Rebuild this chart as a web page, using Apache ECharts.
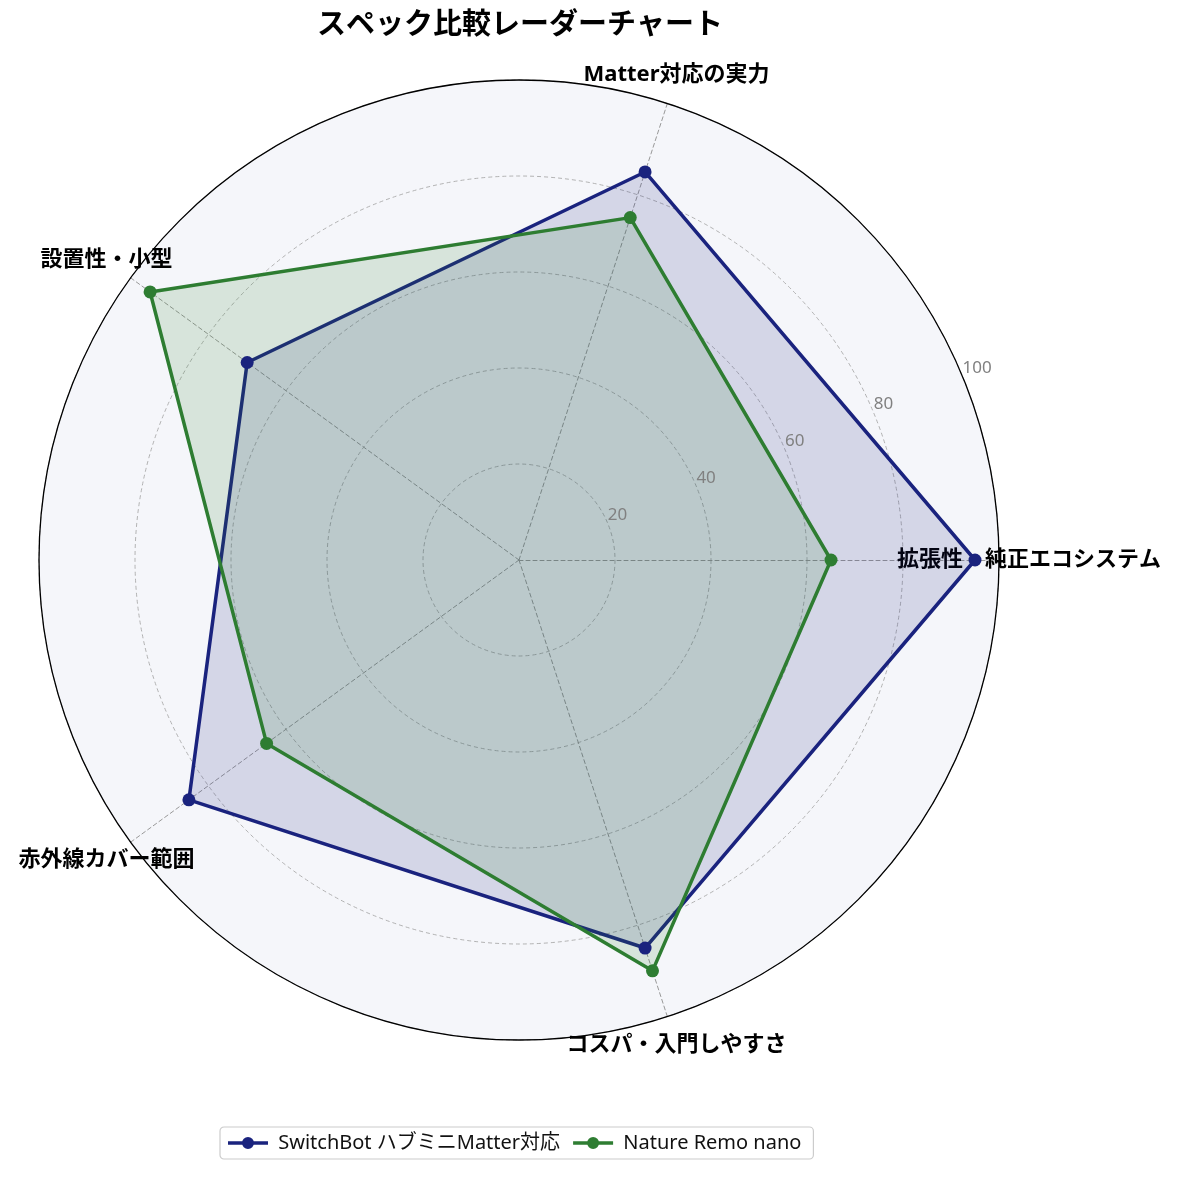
<!DOCTYPE html>
<html>
<head>
<meta charset="utf-8">
<script src="https://cdn.jsdelivr.net/npm/echarts@6/dist/echarts.min.js"></script>
<style>
html,body{margin:0;padding:0;background:#fff;}
#radar_spec{width:1181px;height:1177px;}
</style>
</head>
<body>
<div id="radar_spec"></div>
<script>
// 軸の項目
var categories = ['拡張性・純正エコシステム', 'Matter対応の実力', '設置性・小型', '赤外線カバー範囲', 'コスパ・入門しやすさ'];
var seriesNames = ['SwitchBot ハブミニMatter対応', 'Nature Remo nano'];
var switchbotValues = [95, 85, 70, 85, 85];
var remoValues = [65, 75, 95, 65, 90];
var rTicks = [20, 40, 60, 80, 100];

var font = "'Noto Sans', 'Noto Sans CJK JP'";
var cx = 519, cy = 560, R = 480;
var legendIcon = 'path://M0,6h40v3.4h-40z M14,7.7a6,6 0 1,1 12,0a6,6 0 1,1 -12,0z';

var radar_spec = {
    backgroundColor: '#fff',
    textStyle: { fontFamily: font },
    title: {
        text: 'スペック比較レーダーチャート',
        left: 317,
        top: 11,
        padding: 0,
        textStyle: { fontSize: 29, fontWeight: 'bold', color: '#000', fontFamily: font }
    },
    legend: {
        data: [
            { name: seriesNames[0], icon: legendIcon },
            { name: seriesNames[1], icon: legendIcon }
        ],
        formatter: function (n) { return ' ' + n; },
        left: 220,
        top: 1127,
        itemWidth: 40,
        itemHeight: 12,
        itemGap: 13,
        padding: [6, 12, 6, 8],
        borderColor: '#cccccc',
        borderWidth: 1.2,
        borderRadius: 4,
        textStyle: { fontSize: 20, color: '#111', fontFamily: font }
    },
    radar: {
        center: [cx, cy],
        radius: R,
        startAngle: 0,
        shape: 'circle',
        splitNumber: 5,
        indicator: categories.map(function (c) { return { name: c, min: 0, max: 100 }; }),
        nameGap: 30,
        axisName: {
            color: '#000',
            fontSize: 22,
            fontWeight: 'bold',
            fontFamily: font,
            align: 'center',
            verticalAlign: 'middle'
        },
        axisLine: { lineStyle: { color: '#999', type: [4, 3], width: 1 } },
        splitLine: { lineStyle: { color: '#aaa', type: [4, 3], width: 0.9 } },
        splitArea: { show: true, areaStyle: { color: ['#f5f6fa'] } }
    },
    // 目盛ラベルと外枠用
    polar: { center: [cx, cy], radius: R },
    angleAxis: {
        type: 'value',
        min: 0,
        max: 360,
        startAngle: 22.5,
        z: 5,
        axisLine: { show: true, lineStyle: { color: '#000', width: 1.3 } },
        axisTick: { show: false },
        axisLabel: { show: false },
        splitLine: { show: false }
    },
    radiusAxis: {
        type: 'value',
        min: 0,
        max: 100,
        interval: 20,
        z: 5,
        axisLine: { show: false },
        axisTick: { show: false },
        splitLine: { show: false },
        axisLabel: {
            showMinLabel: false,
            margin: 0,
            align: 'left',
            verticalAlign: 'bottom',
            color: '#808080',
            fontSize: 17,
            fontFamily: font,
            formatter: function (v) { return rTicks.indexOf(v) >= 0 ? String(v) : ''; }
        }
    },
    series: [
        {
            type: 'radar',
            symbol: 'circle',
            symbolSize: 13,
            data: [
                {
                    name: seriesNames[0],
                    value: switchbotValues,
                    itemStyle: { color: '#1a237e' },
                    lineStyle: { color: '#1a237e', width: 3.5 },
                    areaStyle: { color: '#1a237e', opacity: 0.15 }
                },
                {
                    name: seriesNames[1],
                    value: remoValues,
                    itemStyle: { color: '#2e7d32' },
                    lineStyle: { color: '#2e7d32', width: 3.5 },
                    areaStyle: { color: '#2e7d32', opacity: 0.15 }
                }
            ]
        }
    ]
};

var chart_radar_spec = echarts.init(document.getElementById('radar_spec'));
chart_radar_spec.setOption(radar_spec);
</script>
</body>
</html>
